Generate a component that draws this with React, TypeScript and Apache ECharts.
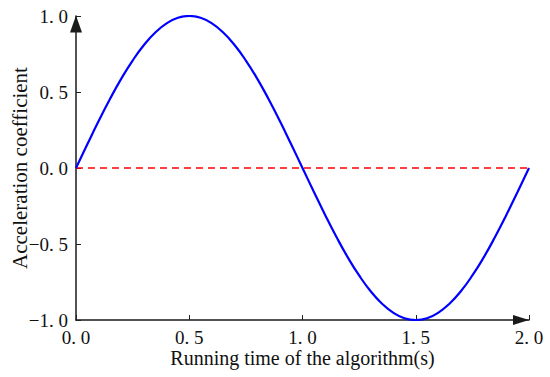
import React, { useEffect, useRef } from "react";
import * as echarts from "echarts";

const timeValues = [
  0, 0.05, 0.1, 0.15, 0.2, 0.25, 0.3, 0.35, 0.4, 0.45, 0.5, 0.55, 0.6, 0.65, 0.7, 0.75, 0.8, 0.85, 0.9, 0.95,
  1.0, 1.05, 1.1, 1.15, 1.2, 1.25, 1.3, 1.35, 1.4, 1.45, 1.5, 1.55, 1.6, 1.65, 1.7, 1.75, 1.8, 1.85, 1.9, 1.95, 2.0,
];
const coefficientValues = [
  0, 0.156, 0.309, 0.454, 0.588, 0.707, 0.809, 0.891, 0.951, 0.988, 1.0, 0.988, 0.951, 0.891, 0.809, 0.707, 0.588,
  0.454, 0.309, 0.156, 0, -0.156, -0.309, -0.454, -0.588, -0.707, -0.809, -0.891, -0.951, -0.988, -1.0, -0.988,
  -0.951, -0.891, -0.809, -0.707, -0.588, -0.454, -0.309, -0.156, 0,
];
const zeroLineX = [0, 2];
const zeroLineY = [0, 0];

const xAxisTitle = "Running time of the algorithm(s)";
const yAxisTitle = "Acceleration coefficient";

const FONT = "'Liberation Serif', 'DejaVu Serif', serif";

const fmt = (v: number) => {
  const s = v.toFixed(1);
  return s.replace(".", ". ").replace("-", "\u2212");
};

export default function App() {
  const ref = useRef<HTMLDivElement>(null);
  useEffect(() => {
    if (!ref.current) return;
    const chart = echarts.init(ref.current, undefined, { renderer: "svg" });
    const axisLineStyle = { color: "#1a1a1a", width: 1.5 };
    chart.setOption({
      animation: false,
      backgroundColor: "#fff",
      grid: { left: 76, right: 21, top: 16, bottom: 57, containLabel: false, outerBoundsMode: "none" },
      xAxis: {
        type: "value",
        min: 0,
        max: 2,
        interval: 0.5,
        name: xAxisTitle,
        nameLocation: "middle",
        nameGap: 28,
        nameMoveOverlap: false,
        nameTextStyle: { fontFamily: FONT, fontSize: 20, color: "#111" },
        axisLine: {
          show: true,
          onZero: false,
          lineStyle: axisLineStyle,
          symbol: ["none", "triangle"],
          symbolSize: [10, 16],
          symbolOffset: [0, -8],
        },
        axisTick: { show: true, inside: true, length: 5, lineStyle: { color: "#222", width: 1 } },
        axisLabel: { fontFamily: FONT, fontSize: 19, color: "#111", margin: 8, formatter: fmt },
        splitLine: { show: false },
      },
      yAxis: {
        type: "value",
        min: -1,
        max: 1,
        interval: 0.5,
        name: yAxisTitle,
        nameLocation: "middle",
        nameGap: 46,
        nameMoveOverlap: false,
        nameRotate: 90,
        nameTextStyle: { fontFamily: FONT, fontSize: 21, color: "#111" },
        axisLine: {
          show: true,
          onZero: false,
          lineStyle: axisLineStyle,
          symbol: ["none", "triangle"],
          symbolSize: [12, 17],
          symbolOffset: [0, -8],
        },
        axisTick: { show: true, inside: true, length: 5, lineStyle: { color: "#222", width: 1 } },
        axisLabel: { fontFamily: FONT, fontSize: 19, color: "#111", margin: 8, formatter: fmt },
        splitLine: { show: false },
      },
      series: [
        {
          type: "line",
          data: zeroLineX.map((x, i) => [x, zeroLineY[i]]),
          symbol: "none",
          lineStyle: { color: "#ff0000", width: 1.5, type: [7, 5] },
          z: 2,
        },
        {
          type: "line",
          data: timeValues.map((x, i) => [x, coefficientValues[i]]),
          symbol: "none",
          smooth: true,
          lineStyle: { color: "#0000ff", width: 2.2 },
          z: 3,
        },
      ],
    });
    return () => chart.dispose();
  }, []);
  return <div ref={ref} style={{ width: 550, height: 377, position: "absolute", left: 0, top: 0 }} />;
}
